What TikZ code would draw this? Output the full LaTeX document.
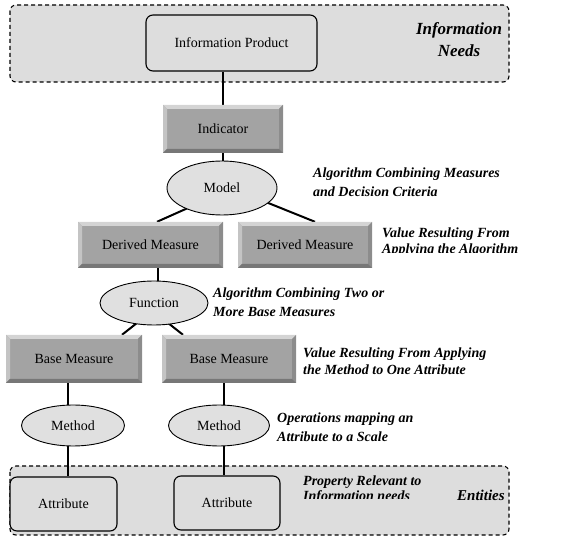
\documentclass[tikz,border=0pt]{standalone}
\usepackage{fontspec}
\setmainfont{Liberation Serif}
\usetikzlibrary{shapes.geometric,calc}
\pgfdeclarelayer{back}
\pgfdeclarelayer{bg}
\pgfsetlayers{back,bg,main}
\definecolor{regionfill}{HTML}{DDDDDD}
\definecolor{ellfill}{HTML}{E0E0E0}
\definecolor{bevface}{HTML}{A3A3A3}
\definecolor{bevtop}{HTML}{D4D4D4}
\definecolor{bevleft}{HTML}{C4C4C4}
\definecolor{bevright}{HTML}{8C8C8C}
\definecolor{bevbottom}{HTML}{777777}
\tikzset{
  txt/.style={font=\fontsize{14}{17}\selectfont},
  lbl/.style={font=\fontsize{14}{17}\selectfont\bfseries\itshape, inner sep=0pt, align=left, anchor=west},
  region/.style={draw, dashed, dash pattern=on 4pt off 3pt, line width=1.1pt, rounded corners=6pt, fill=regionfill},
  roundbox/.style={txt, draw, line width=1.1pt, rounded corners=7pt, fill=regionfill, inner sep=0pt},
  oval/.style={txt, ellipse, draw, line width=0.9pt, fill=ellfill, inner sep=0pt},
  bevelbox/.style={txt, rectangle, fill=bevface, inner sep=0pt,
    path picture={
      \fill[bevtop] (path picture bounding box.north west) -- (path picture bounding box.north east)
        -- ([xshift=-4pt,yshift=-4pt]path picture bounding box.north east)
        -- ([xshift=4pt,yshift=-4pt]path picture bounding box.north west) -- cycle;
      \fill[bevleft] (path picture bounding box.north west) -- ([xshift=4pt,yshift=-4pt]path picture bounding box.north west)
        -- ([xshift=4pt,yshift=4pt]path picture bounding box.south west) -- (path picture bounding box.south west) -- cycle;
      \fill[bevright] (path picture bounding box.north east) -- ([xshift=-4pt,yshift=-4pt]path picture bounding box.north east)
        -- ([xshift=-4pt,yshift=4pt]path picture bounding box.south east) -- (path picture bounding box.south east) -- cycle;
      \fill[bevbottom] (path picture bounding box.south west) -- ([xshift=4pt,yshift=4pt]path picture bounding box.south west)
        -- ([xshift=-4pt,yshift=4pt]path picture bounding box.south east) -- (path picture bounding box.south east) -- cycle;
    }},
  conn/.style={line width=2pt}
}
\begin{document}
\begin{tikzpicture}[x=1pt,y=-1pt]
\useasboundingbox (0,0) rectangle (587,537);
\begin{pgfonlayer}{back}
\draw[region] (10,5) rectangle (509,82);
\draw[region] (10,466) rectangle (509,535);
\end{pgfonlayer}
% nodes
\node[roundbox, minimum width=171pt, minimum height=56pt] (ip) at (231.5,43) {Information Product};
\node[bevelbox, minimum width=120pt, minimum height=48pt] (ind) at (223,129) {Indicator};
\node[oval, minimum width=110pt, minimum height=54pt] (model) at (222,188) {Model};
\node[bevelbox, minimum width=145pt, minimum height=46pt] (dm1) at (150.5,245) {Derived Measure};
\node[bevelbox, minimum width=134pt, minimum height=46pt] (dm2) at (305,245) {Derived Measure};
\node[oval, minimum width=108pt, minimum height=44pt] (fn) at (154,303) {Function};
\node[bevelbox, minimum width=136pt, minimum height=48pt] (bm1) at (74,359) {Base Measure};
\node[bevelbox, minimum width=134pt, minimum height=48pt] (bm2) at (229,359) {Base Measure};
\node[oval, minimum width=103pt, minimum height=41pt] (m1) at (73,425.5) {Method};
\node[oval, minimum width=101pt, minimum height=41pt] (m2) at (219,425.5) {Method};
\node[roundbox, minimum width=107pt, minimum height=54pt] (a1) at (63.5,504) {Attribute};
\node[roundbox, minimum width=106pt, minimum height=54pt] (a2) at (227,503) {Attribute};
% labels
\node[lbl, align=center, anchor=center, font=\fontsize{17}{22}\selectfont\bfseries\itshape] (lneeds) at (459,40) {Information\\Needs};
\node[lbl, font=\fontsize{14}{19}\selectfont\bfseries\itshape] (lmodel) at (313,182.5) {Algorithm Combining Measures\\and Decision Criteria};
\begin{scope}
\clip (370,200) rectangle (587,252.5);
\node[lbl, font=\fontsize{14}{16}\selectfont\bfseries\itshape] (ldm) at (382,242) {Value Resulting From\\Applying the Algorithm};
\end{scope}
\node[lbl, font=\fontsize{14}{19}\selectfont\bfseries\itshape] (lfn) at (213,302.5) {Algorithm Combining Two or\\More Base Measures};
\node[lbl, font=\fontsize{14}{17}\selectfont\bfseries\itshape] (lbm) at (303,361.5) {Value Resulting From Applying\\the Method to One Attribute};
\node[lbl, font=\fontsize{14}{19}\selectfont\bfseries\itshape] (lm) at (277,427.5) {Operations mapping an\\Attribute to a Scale};
\begin{scope}
\clip (290,470) rectangle (450,498.5);
\node[lbl, font=\fontsize{14}{15}\selectfont\bfseries\itshape] (lattr) at (303,490) {Property Relevant to\\Information needs};
\end{scope}
\node[lbl, font=\fontsize{15}{17}\selectfont\bfseries\itshape] (lent) at (457,495) {Entities};
% connectors
\coordinate (cx1) at (68,0);
\coordinate (cx2) at (224,0);
\coordinate (cx3) at (158,0);
\begin{pgfonlayer}{bg}
\draw[conn] (ind.north |- ip.south) -- (ind.north);
\draw[conn] (ind.south) -- (model.north -| ind.south);
\draw[conn] ($(model)+(4,3)$) -- ($(dm1.north)+(6.5,0)$);
\draw[conn] ($(model)+(4,-2)$) -- ($(dm2.north)+(10,0)$);
\draw[conn] (cx3 |- dm1.south) -- (cx3 |- fn.center);
\draw[conn] ($(fn)+(-12,16)$) -- ($(bm1.north)+(48,0)$);
\draw[conn] ($(fn)+(9,16)$) -- ($(bm2.north)+(-46,0)$);
\draw[conn] (cx1 |- bm1.south) -- (cx1 |- m1.center);
\draw[conn] (cx1 |- m1.center) -- (cx1 |- a1.north);
\draw[conn] (cx2 |- bm2.south) -- (cx2 |- m2.center);
\draw[conn] (cx2 |- m2.center) -- (cx2 |- a2.north);
\end{pgfonlayer}
\end{tikzpicture}
\end{document}
